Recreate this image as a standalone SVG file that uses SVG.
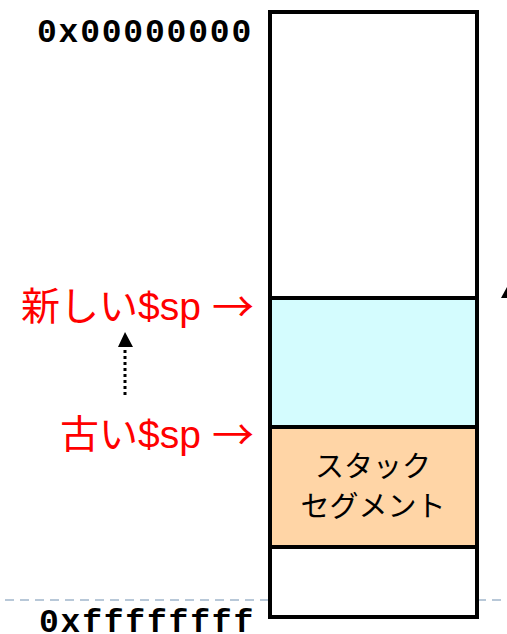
<svg xmlns="http://www.w3.org/2000/svg" width="507" height="634" viewBox="0 0 507 634">
<style>
.addr{font-family:"Liberation Mono","Courier New",monospace;font-weight:bold;font-size:33px;fill:#000;letter-spacing:1.8px}
.red{font-family:"Liberation Sans","Noto Sans CJK JP",sans-serif;font-size:39px;fill:#ff0000}
.arr{font-family:"Noto Sans CJK JP",sans-serif;font-size:42px;fill:#ff0000}
.jp{font-family:"Noto Sans CJK JP",sans-serif;font-size:29px;fill:#000}
.cell{stroke:#000;stroke-width:4}
</style>
<rect width="507" height="634" fill="#fff"/>
<g id="guide">
<line x1="5" y1="600" x2="270" y2="600" stroke="#b8c8d8" stroke-width="2" stroke-dasharray="9,6"/>
<line x1="477" y1="600" x2="507" y2="600" stroke="#b8c8d8" stroke-width="2" stroke-dasharray="9,6"/>
</g>
<g id="memory">
<rect id="free" class="cell" x="270" y="12" width="207" height="286" fill="#fff"/>
<rect id="newframe" class="cell" x="270" y="298" width="207" height="129" fill="#d4fcfe"/>
<g id="stack">
<rect class="cell" x="270" y="427" width="207" height="120" fill="#ffd5a6"/>
<text class="jp" x="373" y="477" text-anchor="middle">スタック</text>
<text class="jp" x="373" y="517" text-anchor="middle">セグメント</text>
</g>
<rect id="bottom" class="cell" x="270" y="547" width="207" height="70" fill="#fff"/>
</g>
<g id="addr-top"><text class="addr" x="253" y="42" text-anchor="end">0x00000000</text></g>
<g id="addr-bottom"><text class="addr" x="255" y="632" text-anchor="end">0xffffffff</text></g>
<g id="new-sp"><text class="red" x="201" y="320" text-anchor="end">新しい$sp</text><text class="arr" x="254" y="322" text-anchor="end">→</text></g>
<g id="old-sp"><text class="red" x="201" y="448" text-anchor="end">古い$sp</text><text class="arr" x="254" y="450" text-anchor="end">→</text></g>
<g id="connectors">
<line x1="125" y1="395" x2="125" y2="347" stroke="#000" stroke-width="3" stroke-dasharray="3,3"/>
<polygon points="125,332 118,347 133,347" fill="#000"/>
<polygon points="507,287 501,298 513,298" fill="#000"/>
</g>
</svg>
